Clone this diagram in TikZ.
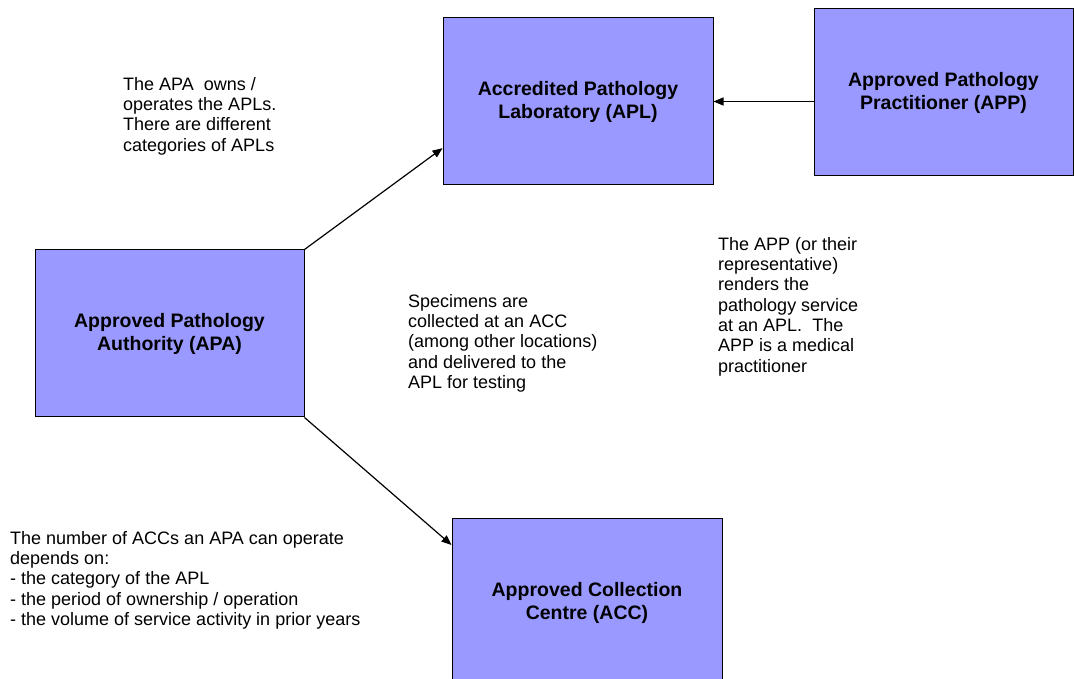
\documentclass[tikz,border=0pt]{standalone}
\usepackage{fontspec}
\setmainfont{Liberation Sans}
\usepackage{tikz}
\definecolor{boxblue}{RGB}{153, 153, 255}
\usetikzlibrary{arrows.meta}

\begin{document}
\begin{tikzpicture}
		[x=1pt,y=1pt,
		box/.style={rectangle, fill=boxblue, draw=black, line width=1pt, align=center, font=\fontsize{19.5}{23}\selectfont\bfseries},
		note/.style={inner sep=0pt, anchor=north west, align=left, font=\fontsize{18}{20.3}\selectfont},
		link/.style={line width=1.2pt, color=black, -{Triangle[length=10pt,width=8pt]}}]
		\useasboundingbox (0,0) rectangle (1074,679);
		\node (APL) [box, minimum width=270pt, minimum height=167pt] at (578, 577.5) {Accredited Pathology\\Laboratory (APL)};
		\node (APP) [box, minimum width=259pt, minimum height=167pt] at (943.5, 586.5) {Approved Pathology\\Practitioner (APP)};
		\node (APA) [box, minimum width=269pt, minimum height=167pt] at (169.5, 345.5) {Approved Pathology\\Authority (APA)};
		\node (ACC) [box, minimum width=270pt, minimum height=167pt] at (587, 76.5) {Approved Collection\\Centre (ACC)};
		\node (ownsnote) [note] at (123, 602) {The APA\ \ owns /\\operates the APLs.\\There are different\\categories of APLs};
		\node (specnote) [note] at (408, 385) {Specimens are\\collected at an ACC\\(among other locations)\\and delivered to the\\APL for testing};
		\node (appnote) [note] at (718, 442) {The APP (or their\\representative)\\renders the\\pathology service\\at an APL.\ \ The\\APP is a medical\\practitioner};
		\node (accnote) [note] at (10, 148) {The number of ACCs an APA can operate\\depends on:\\- the category of the APL\\- the period of ownership / operation\\- the volume of service activity in prior years};
		\draw [link] (APA.north east) to (APL.199);
		\draw [link] (APA.south east) to (ACC.157);
		\draw [link] (APP.west |- APL.east) to (APL.east);
\end{tikzpicture}
\end{document}
